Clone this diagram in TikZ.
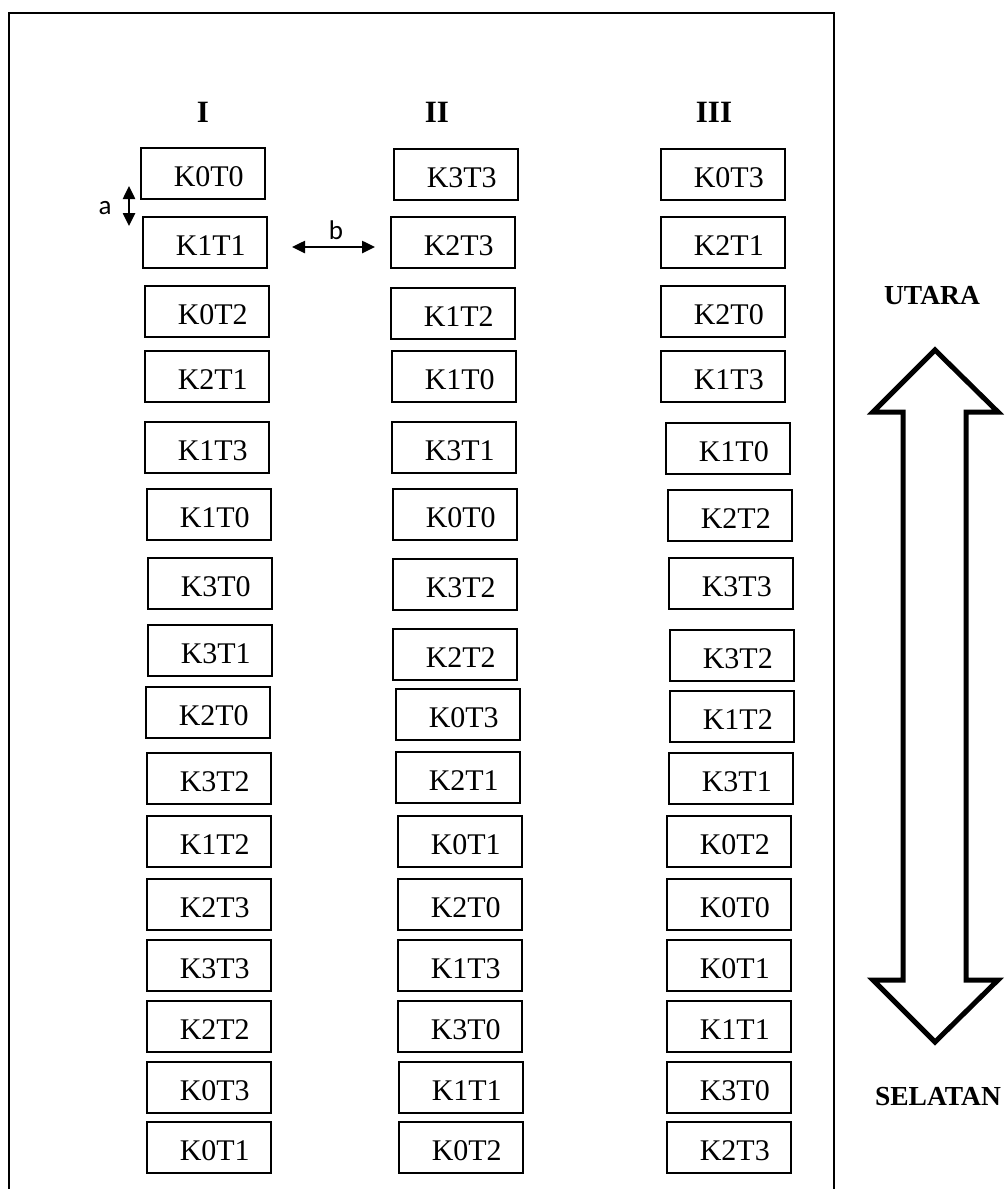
\documentclass[tikz,border=0pt]{standalone}
\usepackage{fontspec}
\setmainfont{Liberation Serif}
\newfontfamily\labelsans{Carlito}
\usetikzlibrary{arrows.meta}

% one plot box: name, left x, top y, label
\newcommand\plotbox[4]{\node[cell] (#1) at (#2,#3) {\hspace*{12pt}#4};}

\begin{document}
\begin{tikzpicture}[x=1pt,y=-1pt,
  cell/.style={draw, line width=1.5pt, minimum width=124pt, minimum height=51pt,
    inner sep=0pt, anchor=north west, text height=26pt, text depth=0pt,
    font=\fontsize{30}{36}\selectfont},
  colhead/.style={font=\fontsize{31}{37}\selectfont\bfseries},
  compass/.style={font=\fontsize{27.5}{33}\selectfont\bfseries},
  gap/.style={line width=2.5pt,
    {Triangle[length=13pt,width=12pt]}-{Triangle[length=13pt,width=12pt]}},
  gaplabel/.style={font=\labelsans\fontsize{27}{31}\selectfont}
]
\useasboundingbox (0,0) rectangle (1008,1189);
\clip (0,0) rectangle (1008,1189);

% outer frame (open at the bottom edge)
\draw[line width=2pt] (9,1200) -- (9,12.5) -- (834,12.5) -- (834,1200);

% column headings
\node[colhead] (hI)   at (203,112) {I};
\node[colhead] (hII)  at (437,112) {II};
\node[colhead] (hIII) at (714,112) {III};

% column I
\plotbox{i1}{140}{147}{K0T0}
\plotbox{i2}{142}{216}{K1T1}
\plotbox{i3}{144}{285}{K0T2}
\plotbox{i4}{144}{350}{K2T1}
\plotbox{i5}{144}{421}{K1T3}
\plotbox{i6}{146}{488}{K1T0}
\plotbox{i7}{147}{557}{K3T0}
\plotbox{i8}{147}{624}{K3T1}
\plotbox{i9}{145}{686}{K2T0}
\plotbox{i10}{146}{752}{K3T2}
\plotbox{i11}{146}{815}{K1T2}
\plotbox{i12}{146}{878}{K2T3}
\plotbox{i13}{146}{939}{K3T3}
\plotbox{i14}{146}{1000}{K2T2}
\plotbox{i15}{146}{1061}{K0T3}
\plotbox{i16}{146}{1121}{K0T1}

% column II
\plotbox{ii1}{393}{148}{K3T3}
\plotbox{ii2}{390}{216}{K2T3}
\plotbox{ii3}{390}{287}{K1T2}
\plotbox{ii4}{391}{350}{K1T0}
\plotbox{ii5}{391}{421}{K3T1}
\plotbox{ii6}{392}{488}{K0T0}
\plotbox{ii7}{392}{558}{K3T2}
\plotbox{ii8}{392}{628}{K2T2}
\plotbox{ii9}{395}{688}{K0T3}
\plotbox{ii10}{395}{751}{K2T1}
\plotbox{ii11}{397}{815}{K0T1}
\plotbox{ii12}{397}{878}{K2T0}
\plotbox{ii13}{397}{939}{K1T3}
\plotbox{ii14}{397}{1000}{K3T0}
\plotbox{ii15}{398}{1061}{K1T1}
\plotbox{ii16}{398}{1121}{K0T2}

% column III
\plotbox{iii1}{660}{148}{K0T3}
\plotbox{iii2}{660}{216}{K2T1}
\plotbox{iii3}{660}{285}{K2T0}
\plotbox{iii4}{660}{350}{K1T3}
\plotbox{iii5}{665}{422}{K1T0}
\plotbox{iii6}{667}{489}{K2T2}
\plotbox{iii7}{668}{557}{K3T3}
\plotbox{iii8}{669}{629}{K3T2}
\plotbox{iii9}{669}{690}{K1T2}
\plotbox{iii10}{668}{752}{K3T1}
\plotbox{iii11}{666}{815}{K0T2}
\plotbox{iii12}{666}{878}{K0T0}
\plotbox{iii13}{666}{939}{K0T1}
\plotbox{iii14}{666}{1000}{K1T1}
\plotbox{iii15}{666}{1061}{K3T0}
\plotbox{iii16}{666}{1121}{K2T3}

% spacing markers a (between rows) and b (between columns)
\coordinate (atop) at (129,186);
\coordinate (abot) at (129,226);
\draw[gap] (atop) -- (abot);
\node[gaplabel] (alab) at (105,208) {a};

\coordinate (bleft)  at (292,247);
\coordinate (bright) at (375,247);
\draw[gap] (bleft) -- (bright);
\node[gaplabel] (blab) at (336,230) {b};

% north-south double arrow
\node[compass] (north) at (932,296) {UTARA};
\node[compass] (south) at (938,1097) {SELATAN};
\draw[line width=5pt, line join=miter]
  (935,350) -- (998,412) -- (966,412) -- (966,980) -- (998,980) -- (935,1042)
  -- (873,980) -- (903,980) -- (903,412) -- (873,412) -- cycle;
\end{tikzpicture}
\end{document}
